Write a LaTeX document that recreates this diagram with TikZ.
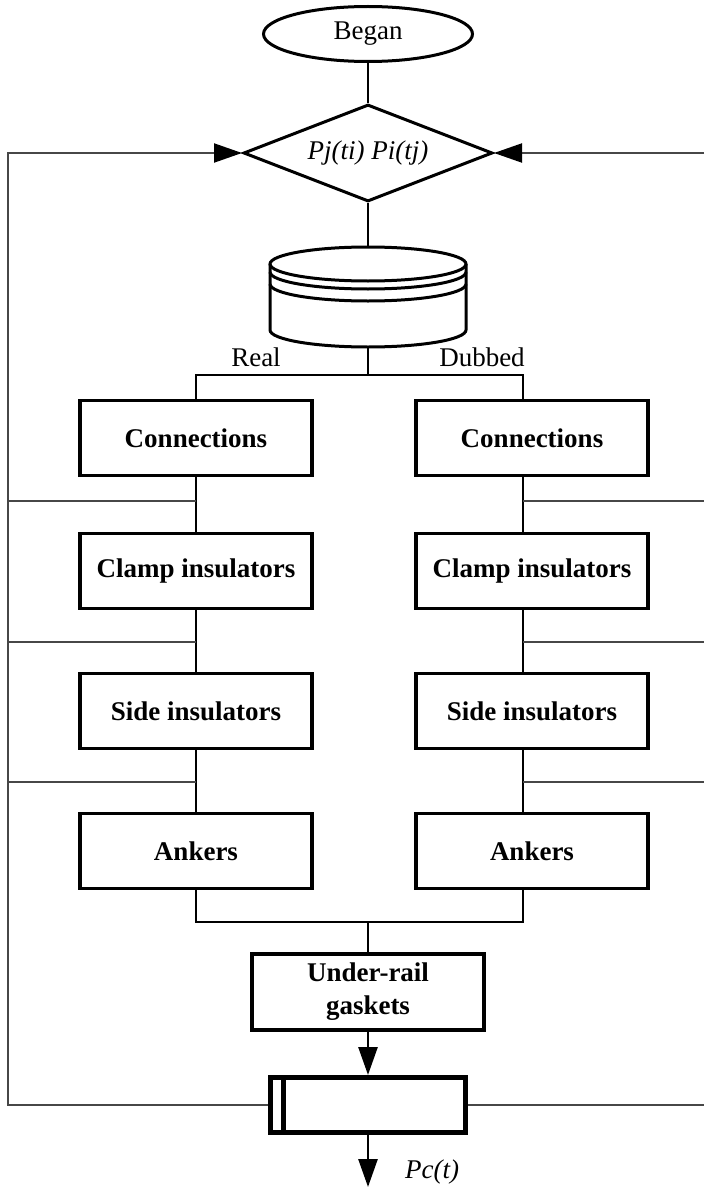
\documentclass[tikz,border=0pt]{standalone}
\usepackage{fontspec}
\setmainfont{Liberation Serif}
\usetikzlibrary{shapes.geometric,positioning,arrows.meta}
\tikzset{
  >={Triangle[length=28pt,width=19pt,color=black]}, node distance=140pt,
  every node/.style={font=\fontsize{27}{33}\selectfont},
  block/.style={draw, line width=3.1pt, minimum width=232pt, minimum height=75pt,
    inner sep=2pt, align=center, font=\fontsize{27}{33}\selectfont\bfseries},
  link/.style={line width=2.7pt},
  fback/.style={line width=2pt, draw=black!72}
  }
\begin{document}
\begin{tikzpicture}[x=1pt,y=1pt]
    \useasboundingbox (0,0) rectangle (704,-1188);

    \node [draw, ellipse, line width=3pt, minimum width=209pt, minimum height=55pt] at (368,-34) (began) {Began};
    \node [draw, diamond, aspect=2.5, line width=3pt, inner sep=0pt, minimum width=249pt, minimum height=97pt] at (368,-153) (check) {\textit{Pj(ti) Pi(tj)}};
    \node [inner sep=0pt, outer sep=0pt, minimum width=196pt, minimum height=100pt] at (368,-297) (base) {};

    % stacked disk
    \draw [link, line width=3pt] ([yshift=-17pt]base.north) ellipse [x radius=98, y radius=17];
    \draw [link, line width=3pt] ([yshift=-25pt]base.north west) arc [start angle=180, end angle=360, x radius=98, y radius=17];
    \draw [link, line width=3pt] ([yshift=-37pt]base.north west) arc [start angle=180, end angle=360, x radius=98, y radius=17];
    \draw [link, line width=3pt] ([yshift=-17pt]base.north west) -- ([yshift=17pt]base.south west)
        arc [start angle=180, end angle=360, x radius=98, y radius=17] -- ([yshift=-17pt]base.north east);

    \node at (256,-357) (real) {Real};
    \node at (482,-357) (dubbed) {Dubbed};

    \node [block] at (196,-438) (lc1) {Connections};
    \node [block] at (196,-571) (lc2) {Clamp insulators};
    \node [block, below of=lc2] (lc3) {Side insulators};
    \node [block, below of=lc3] (lc4) {Ankers};

    \node [block] at (532,-438) (rc1) {Connections};
    \node [block] at (532,-571) (rc2) {Clamp insulators};
    \node [block, below of=rc2] (rc3) {Side insulators};
    \node [block, below of=rc3] (rc4) {Ankers};

    \node [block, minimum height=76pt] at (368,-992) (gasket) {Under-rail\\gaskets};
    \node [draw, line width=5pt, minimum width=195pt, minimum height=55pt] at (368,-1105) (store) {};
    \draw [line width=5pt] ([xshift=15.5pt]store.north west) -- ([xshift=15.5pt]store.south west);

    \node at (432,-1172) (pc) {\textit{Pc(t)}};

    \coordinate (split) at (368,-375);
    \coordinate (rsplit) at (523,-375);
    \coordinate (lj1) at (196,-501);
    \coordinate (lj2) at (196,-642);
    \coordinate (lj3) at (196,-782);
    \coordinate (rj1) at (523,-501);
    \coordinate (rj2) at (523,-642);
    \coordinate (rj3) at (523,-782);
    \coordinate (lmerge) at (196,-922);
    \coordinate (rmerge) at (523,-922);
    \coordinate (merge) at (368,-922);
    \coordinate (ltop) at (8,-153);
    \coordinate (rtop) at (704,-153);
    \coordinate (out) at (368,-1187);

    \draw [link] (began) -- (check);
    \draw [link] (check) -- (base);
    \draw [link] (base) -- (split);
    \draw [link] (lc1) |- (split) -| (rc1.north -| rsplit);

    \draw [link] (lc1) -- (lc2);
    \draw [link] (lc2) -- (lc3);
    \draw [link] (lc3) -- (lc4);
    \draw [link] (rc1.south -| rsplit) -- (rc2.north -| rsplit);
    \draw [link] (rc2.south -| rsplit) -- (rc3.north -| rsplit);
    \draw [link] (rc3.south -| rsplit) -- (rc4.north -| rsplit);

    \draw [link] (lc4) |- (merge) -| (rc4.south -| rmerge);
    \draw [link] (merge) -- (gasket);
    \draw [link, ->] (gasket) -- (store);
    \draw [link, ->] (store) -- (out);

    \draw [fback] (lj1) -- (lj1 -| ltop);
    \draw [fback] (lj2) -- (lj2 -| ltop);
    \draw [fback] (lj3) -- (lj3 -| ltop);
    \draw [fback] (rj1) -- (rj1 -| rtop);
    \draw [fback] (rj2) -- (rj2 -| rtop);
    \draw [fback] (rj3) -- (rj3 -| rtop);
    \draw [fback, ->] (store.west) -| (ltop) -- (check.west);
    \draw [fback] (store.east) -- (store.east -| rtop);
    \draw [fback, ->] (rtop) -- (check.east);

 \end{tikzpicture}
\end{document}
